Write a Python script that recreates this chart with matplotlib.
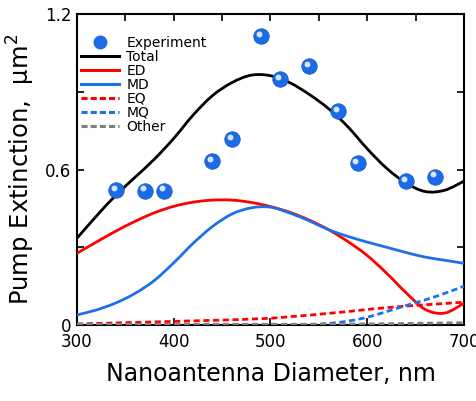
import numpy as np
import matplotlib
matplotlib.use("Agg")
import matplotlib.pyplot as plt
import matplotlib.transforms as mtransforms
from matplotlib.lines import Line2D
from matplotlib.path import Path
from matplotlib.patches import PathPatch
from matplotlib.ticker import MultipleLocator

# diameters for simulated curves (nm)
diam = [300, 320, 340, 360, 380, 400, 420, 440, 460, 480, 500,
        520, 540, 560, 580, 600, 620, 640, 660, 680, 700]

total = [0.335, 0.42, 0.50, 0.57, 0.64, 0.72, 0.81, 0.885, 0.935, 0.964, 0.962,
         0.935, 0.89, 0.835, 0.765, 0.68, 0.605, 0.548, 0.515, 0.52, 0.555]
ed = [0.277, 0.32, 0.362, 0.40, 0.433, 0.458, 0.474, 0.482, 0.482, 0.473, 0.457,
      0.435, 0.405, 0.368, 0.322, 0.268, 0.20, 0.125, 0.06, 0.046, 0.084]
md = [0.039, 0.058, 0.085, 0.122, 0.172, 0.24, 0.315, 0.38, 0.428, 0.452, 0.455,
      0.432, 0.402, 0.368, 0.342, 0.32, 0.30, 0.28, 0.262, 0.25, 0.238]
eq = [0.004, 0.006, 0.008, 0.010, 0.012, 0.014, 0.016, 0.018, 0.020, 0.023, 0.026,
      0.032, 0.038, 0.045, 0.052, 0.060, 0.067, 0.073, 0.078, 0.083, 0.088]
mq = [0.001, 0.001, 0.001, 0.001, 0.001, 0.001, 0.001, 0.001, 0.001, 0.001, 0.001,
      0.001, 0.002, 0.006, 0.015, 0.03, 0.052, 0.075, 0.097, 0.122, 0.15]
other = [0.003, 0.003, 0.003, 0.003, 0.003, 0.003, 0.003, 0.003, 0.003, 0.003, 0.003,
         0.003, 0.003, 0.003, 0.004, 0.004, 0.005, 0.006, 0.007, 0.008, 0.009]

# measured points
exp_d = [340, 370, 390, 440, 460, 490, 510, 540, 570, 590, 640, 670]
exp_v = [0.521, 0.519, 0.519, 0.633, 0.718, 1.116, 0.95, 1.001, 0.826, 0.624, 0.556, 0.573]

RED = "#ff0000"
BLUE = "#1f6fe6"
GREY = "#808080"
DASH = (0, (2.2, 1.3))


def smooth_path(x, y):
    # bezier path through the read points (catmull-rom style handles)
    pts = np.column_stack([x, y]).astype(float)
    n = len(pts)
    verts = [pts[0]]
    codes = [Path.MOVETO]
    for i in range(n - 1):
        p0 = pts[max(i - 1, 0)]
        p1 = pts[i]
        p2 = pts[i + 1]
        p3 = pts[min(i + 2, n - 1)]
        verts += [p1 + (p2 - p0) / 6, p2 - (p3 - p1) / 6, p2]
        codes += [Path.CURVE4] * 3
    return Path(verts, codes)


def curve(ax, y, color, ls="-"):
    ax.add_patch(PathPatch(smooth_path(diam, y), fill=False, edgecolor=color,
                           lw=2.0, ls=ls, zorder=3, capstyle="butt"))


fig = plt.figure(figsize=(4.77, 4.01), dpi=100)
ax = fig.add_axes([0.1614, 0.1895, 0.8113, 0.7755])

curve(ax, total, "black")
curve(ax, ed, RED)
curve(ax, md, BLUE)
curve(ax, eq, RED, DASH)
curve(ax, mq, BLUE, DASH)
curve(ax, other, GREY, DASH)

# spheres: a blue dot with a pale highlight shifted up-left
ax.scatter(exp_d, exp_v, s=125, color="#1c6be6", edgecolors="#1558c8",
           linewidths=0.5, zorder=4, clip_on=False)
shift = mtransforms.ScaledTranslation(-1.5 / 72, 1.5 / 72, fig.dpi_scale_trans)
ax.scatter(exp_d, exp_v, s=18, color="#d4e6ff", linewidths=0, zorder=5,
           transform=ax.transData + shift, clip_on=False)

ax.set_xlim(300, 700)
ax.set_ylim(0, 1.2)
ax.xaxis.set_major_locator(MultipleLocator(100))
ax.xaxis.set_minor_locator(MultipleLocator(50))
ax.set_yticks([0, 0.6, 1.2])
ax.set_yticklabels(["0", "0.6", "1.2"])
ax.yaxis.set_minor_locator(MultipleLocator(0.3))
ax.tick_params(which="both", direction="in", top=True, right=True,
               labelsize=12, width=1.2, length=5, pad=6)
ax.tick_params(axis="x", which="minor", bottom=False)
ax.tick_params(axis="y", pad=4)
for s in ax.spines.values():
    s.set_linewidth(1.5)

ax.set_xlabel("Nanoantenna Diameter, nm", fontsize=17, labelpad=8)
ax.set_ylabel("Pump Extinction,  μm$^2$", fontsize=17.5, labelpad=6)

handles = [
    Line2D([], [], ls="none", marker="o", ms=9, color="#1c6be6"),
    Line2D([], [], color="black", lw=2.2),
    Line2D([], [], color=RED, lw=2.2),
    Line2D([], [], color=BLUE, lw=2.2),
    Line2D([], [], color=RED, lw=2.2, ls=(0, (2, 1))),
    Line2D([], [], color=BLUE, lw=2.2, ls=(0, (2, 1))),
    Line2D([], [], color=GREY, lw=2.2, ls=(0, (2, 1))),
]
labels = ["Experiment", "Total", "ED", "MD", "EQ", "MQ", "Other"]
ax.legend(handles, labels, loc="upper left", bbox_to_anchor=(-0.005, 0.948),
          frameon=False, fontsize=10, labelspacing=0.0, handlelength=2.8,
          handletextpad=0.5, borderaxespad=0.0)

fig.savefig("out.png", dpi=100)
